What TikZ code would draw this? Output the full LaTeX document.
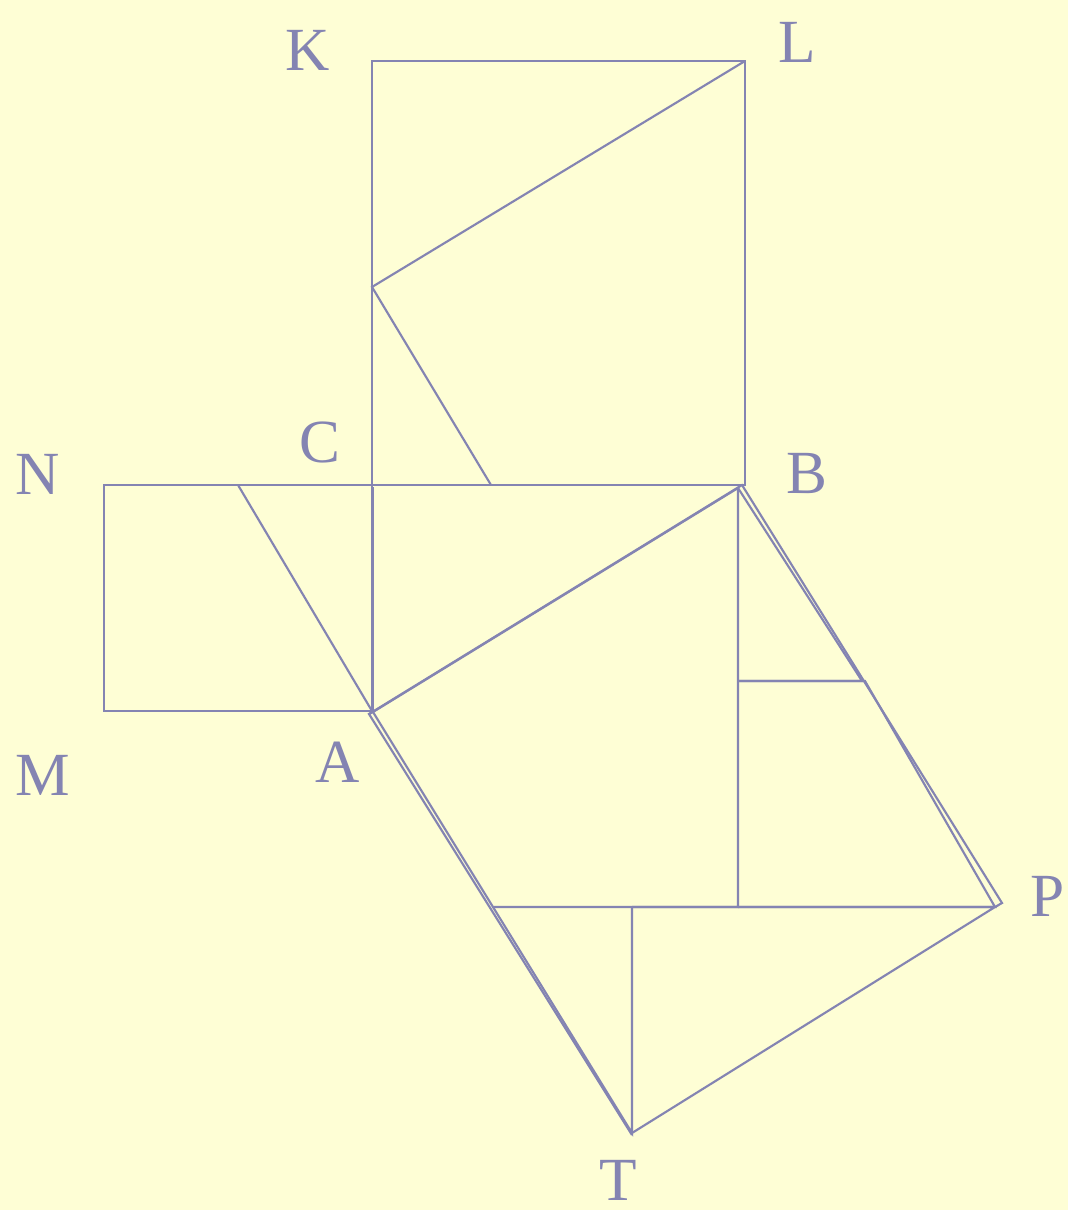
\documentclass[tikz,border=0pt]{standalone}
\usepackage{fontspec}
\setmainfont{Liberation Serif}
\definecolor{bg}{RGB}{254,254,213}
\definecolor{ln}{RGB}{132,132,178}
\begin{document}
\begin{tikzpicture}[x=0.75pt,y=-0.75pt,
  seg/.style={draw=ln,line width=1.6pt,line join=miter},
  lbl/.style={text=ln,font=\fontsize{46}{46}\selectfont,inner sep=0pt}]
\fill[bg] (0,0) rectangle (1068,1210);
\useasboundingbox (0,0) rectangle (1068,1210);
% named points
\coordinate (K) at (372,61);
\coordinate (L) at (745,61);
\coordinate (C) at (372,485);
\coordinate (B) at (745,485);
\coordinate (A) at (372,711);
\coordinate (N) at (104,485);
\coordinate (M) at (104,711);
\coordinate (Q) at (372,287);
\coordinate (R) at (491,485);
\coordinate (S) at (238,485);
\coordinate (C3) at (373.2,487);
\coordinate (A3) at (373.2,711);
% square on CB
\draw[seg] (K) -- (L) -- (B) -- (C) -- cycle;
\draw[seg] (L) -- (Q) -- (R);
% square on AC
\draw[seg] (N) -- (C) -- (A) -- (M) -- cycle;
\draw[seg] (S) -- (A);
\draw[seg] (C3) -- (A3);
% square on AB: pieces
\coordinate (A1) at (373,712);
\coordinate (B1) at (738,488);
\coordinate (D) at (738,907);
\coordinate (E) at (493,907);
\coordinate (F) at (738,681);
\coordinate (G) at (862,681);
\coordinate (G2) at (865,681);
\coordinate (P1) at (995,907);
\coordinate (H) at (632,907);
\coordinate (T1) at (632,1133);
\draw[seg] (A1) -- (B1) -- (D) -- (E) -- cycle;
\draw[seg] (B1) -- (G) -- (F);
\draw[seg] (F) -- (G2) -- (P1) -- (D);
\draw[seg] (E) -- (T1) -- (H);
\draw[seg] (H) -- (P1) -- (T1);
% outer outline
\coordinate (A2) at (369,714);
\coordinate (B2) at (742,485);
\coordinate (P2) at (1002,903);
\coordinate (T2) at (632,1135);
\draw[seg] (A1) -- (A2) -- (T2);
\draw[seg] (A2) -- (B2) -- (P2) -- (P1);
% labels
\node[lbl] (lK) at (308,50) {K};
\node[lbl] (lL) at (797,42) {L};
\node[lbl] (lC) at (320,442) {C};
\node[lbl] (lB) at (807,474) {B};
\node[lbl] (lN) at (38,474) {N};
\node[lbl] (lM) at (43,775) {M};
\node[lbl] (lA) at (338,762) {A};
\node[lbl] (lP) at (1048,896) {P};
\node[lbl] (lT) at (618,1180) {T};
\end{tikzpicture}
\end{document}
